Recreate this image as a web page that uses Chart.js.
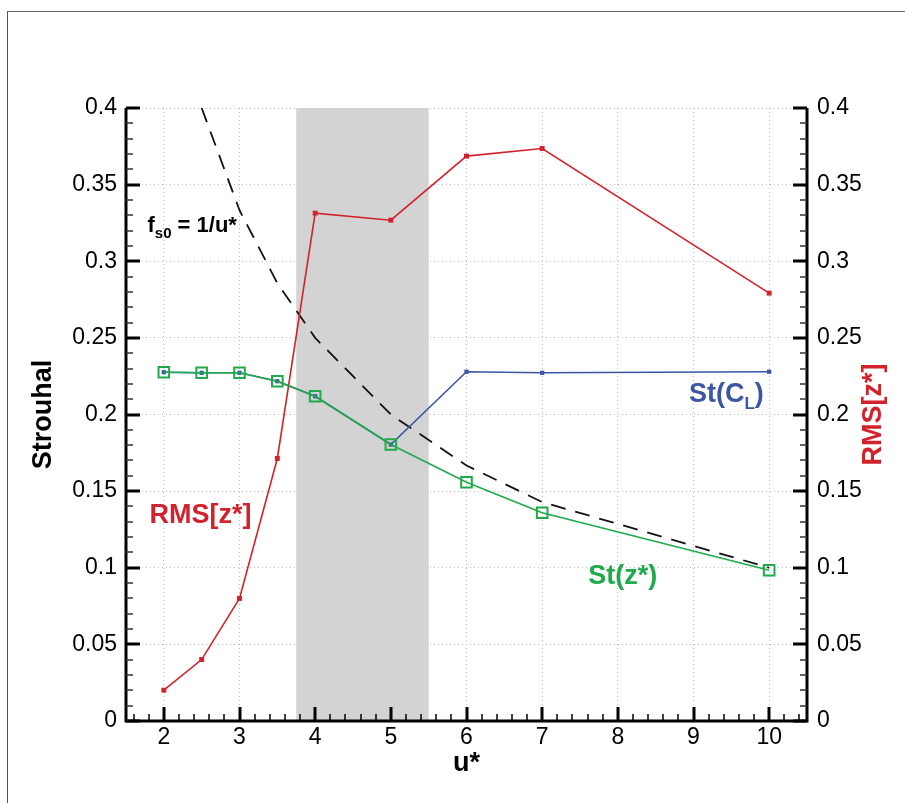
<!DOCTYPE html>
<html>
<head>
<meta charset="utf-8">
<script src="https://cdn.jsdelivr.net/npm/chart.js@4/dist/chart.umd.min.js"></script>
<style>
  html, body { margin: 0; padding: 0; background: #fff; }
  #wrap { position: relative; width: 905px; height: 803px; }
  #frame { position: absolute; left: 7px; top: 11px; right: 0; bottom: 0;
           border-left: 1.5px solid #555; border-top: 1.5px solid #666; pointer-events: none; }
</style>
</head>
<body>
<div id="wrap">
  <canvas id="chart" width="905" height="803"></canvas>
  <div id="frame"></div>
</div>
<script>
// values
const uStar = [2, 2.5, 3, 3.5, 4, 5, 6, 7, 10];
const stZ   = [0.2276, 0.2272, 0.2272, 0.2217, 0.2119, 0.1804, 0.1558, 0.1359, 0.0984];
const stCL  = [0.2276, 0.2272, 0.2272, 0.2217, 0.2119, 0.1804, 0.2279, 0.2272, 0.2279];
const rmsZ  = [0.0201, 0.0401, 0.0800, 0.1713, 0.3314, 0.3268, 0.3686, 0.3736, 0.2792];
const fsU   = [2.5, 3, 3.5, 4, 5, 6, 7, 10];
const fs0   = [0.4, 0.3333, 0.2857, 0.25, 0.2, 0.1667, 0.1429, 0.1];
const lockIn = [3.75, 5.5];
const xTicks = [2, 3, 4, 5, 6, 7, 8, 9, 10];
const yTicks = ['0', '0.05', '0.1', '0.15', '0.2', '0.25', '0.3', '0.35', '0.4'];

const RED = '#d2232d', GREEN = '#1faa4b', BLUE = '#3c55a5';
const FONT = '"Liberation Sans", Arial, Helvetica, sans-serif';

const pts = (xs, ys) => xs.map((x, i) => ({ x: x, y: ys[i] }));

function textRuns(ctx, x, y, parts, color) {
  ctx.fillStyle = color;
  ctx.textBaseline = 'alphabetic';
  ctx.textAlign = 'left';
  parts.forEach(([t, size, dy]) => {
    ctx.font = 'bold ' + size + 'px ' + FONT;
    ctx.fillText(t, x, y + dy);
    x += ctx.measureText(t).width;
  });
}

const decor = {
  id: 'decor',
  beforeDatasetsDraw(chart) {
    const { ctx, chartArea: a, scales: { x } } = chart;
    const x0 = x.getPixelForValue(lockIn[0]);
    const x1 = x.getPixelForValue(lockIn[1]);
    ctx.save();
    ctx.fillStyle = '#d3d3d3';
    ctx.fillRect(x0, a.top, x1 - x0, a.bottom - a.top);
    ctx.restore();
  },
  afterDraw(chart) {
    const { ctx, chartArea: a, scales: { x, y } } = chart;
    ctx.save();
    // axis lines
    ctx.strokeStyle = '#000';
    ctx.lineWidth = 3;
    ctx.beginPath();
    ctx.moveTo(a.left, a.top); ctx.lineTo(a.left, a.bottom); ctx.lineTo(a.right, a.bottom); ctx.lineTo(a.right, a.top);
    ctx.stroke();
    // x ticks, minor every 0.2
    for (let k = 8; k <= 52; k++) {
      const major = k % 5 === 0;
      const px = Math.round(x.getPixelForValue(k / 5));
      ctx.lineWidth = major ? 3 : 1.5;
      ctx.beginPath();
      ctx.moveTo(px, a.bottom);
      ctx.lineTo(px, a.bottom - (major ? 14 : 7));
      ctx.stroke();
    }
    // y ticks, minor every 0.01, both sides
    for (let k = 0; k <= 40; k++) {
      const major = k % 5 === 0;
      const py = Math.round(y.getPixelForValue(k / 100));
      const len = major ? 14 : 7;
      ctx.lineWidth = major ? 3 : 1.5;
      ctx.strokeStyle = major ? '#000' : '#333';
      ctx.beginPath();
      ctx.moveTo(a.left, py); ctx.lineTo(a.left + len, py);
      ctx.moveTo(a.right, py); ctx.lineTo(a.right - len, py);
      ctx.stroke();
    }
    // in-plot labels
    const at = (u, v) => [x.getPixelForValue(u), y.getPixelForValue(v)];
    let p = at(1.784, 0.3188);
    textRuns(ctx, p[0], p[1], [['f', 22, 0], ['s0', 15, 6], [' = 1/u*', 22, 0]], '#000');
    p = at(1.81, 0.1295);
    textRuns(ctx, p[0], p[1], [['RMS[z*]', 27, 0]], RED);
    p = at(8.94, 0.208);
    textRuns(ctx, p[0], p[1], [['St(C', 27, 0], ['L', 17, 7], [')', 27, 0]], BLUE);
    p = at(7.61, 0.0897);
    textRuns(ctx, p[0], p[1], [['St(z*)', 27, 0]], GREEN);
    // right axis title, reading bottom to top
    ctx.translate(881, (a.top + a.bottom) / 2);
    ctx.rotate(-Math.PI / 2);
    ctx.textAlign = 'center';
    ctx.textBaseline = 'alphabetic';
    ctx.fillStyle = RED;
    ctx.font = 'bold 27px ' + FONT;
    ctx.fillText('RMS[z*]', 0, 0);
    ctx.restore();
  }
};

const tickFont = { family: FONT, size: 23 };
const titleFont = { family: FONT, size: 27, weight: 'bold' };

new Chart(document.getElementById('chart').getContext('2d'), {
  type: 'line',
  data: {
    datasets: [
      {
        label: 'St(z*)', data: pts(uStar, stZ), yAxisID: 'y',
        borderColor: GREEN, borderWidth: 1.6,
        pointStyle: 'rect', pointRadius: 7.5, pointBorderWidth: 2,
        pointBorderColor: GREEN, pointBackgroundColor: 'rgba(0,0,0,0)'
      },
      {
        label: 'RMS[z*]', data: pts(uStar, rmsZ), yAxisID: 'y2',
        borderColor: RED, borderWidth: 1.6,
        pointStyle: 'rect', pointRadius: 3.5, pointBorderWidth: 0,
        pointBackgroundColor: RED
      },
      {
        label: 'St(CL)', data: pts(uStar, stCL), yAxisID: 'y',
        borderColor: BLUE, borderWidth: 1.6,
        pointStyle: 'rect', pointRadius: 3, pointBorderWidth: 0,
        pointBackgroundColor: BLUE
      },
      {
        label: 'fs0 = 1/u*', data: pts(fsU, fs0), yAxisID: 'y',
        borderColor: '#111', borderWidth: 1.8, borderDash: [15, 10],
        pointRadius: 0
      }
    ]
  },
  options: {
    responsive: false,
    animation: false,
    layout: { padding: { top: 108, left: 0, right: 0, bottom: 0 } },
    plugins: { legend: { display: false }, tooltip: { enabled: false } },
    scales: {
      x: {
        type: 'linear', position: 'bottom', min: 1.5, max: 10.5,
        afterFit: s => { s.height = 82; },
        afterBuildTicks: s => { s.ticks = xTicks.map(v => ({ value: v })); },
        ticks: { font: tickFont, color: '#000', padding: 3, maxRotation: 0, autoSkip: false,
                 callback: v => String(v) },
        grid: { color: '#bdbdbd', lineWidth: 1, drawTicks: false },
        border: { display: false, dash: [1, 3] },
        title: { display: true, text: 'u*', font: titleFont, color: '#000', padding: { top: 0, bottom: 23 } }
      },
      y: {
        type: 'linear', position: 'left', min: 0, max: 0.4,
        afterFit: s => { s.width = 126; },
        afterBuildTicks: s => { s.ticks = yTicks.map(t => ({ value: parseFloat(t) })); },
        ticks: { font: tickFont, color: '#000', padding: 9, callback: (v, i) => yTicks[i] },
        grid: { color: '#bdbdbd', lineWidth: 1, drawTicks: false },
        border: { display: false, dash: [1, 3] },
        title: { display: true, text: 'Strouhal', font: titleFont, color: '#000', padding: { top: 27, bottom: 0 } }
      },
      y2: {
        type: 'linear', position: 'right', min: 0, max: 0.4,
        afterFit: s => { s.width = 98; },
        afterBuildTicks: s => { s.ticks = yTicks.map(t => ({ value: parseFloat(t) })); },
        ticks: { font: tickFont, color: '#000', padding: 10, callback: (v, i) => yTicks[i] },
        grid: { display: false, drawTicks: false },
        border: { display: false }
      }
    }
  },
  plugins: [decor]
});
</script>
</body>
</html>
